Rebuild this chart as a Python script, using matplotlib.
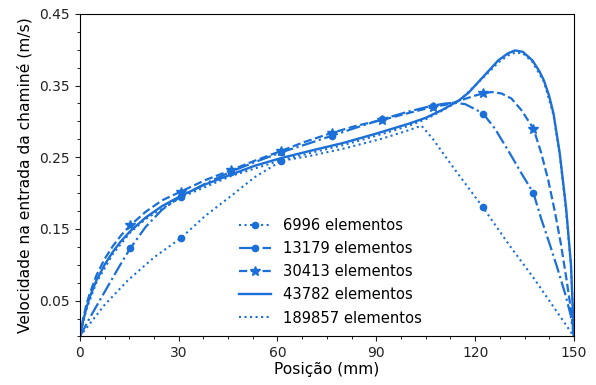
import numpy as np
import matplotlib
matplotlib.use("Agg")
import matplotlib.pyplot as plt
from matplotlib.ticker import MultipleLocator

# ---------------- data ----------------
labels = ["6996 elementos", "13179 elementos", "30413 elementos",
          "43782 elementos", "189857 elementos"]

x_6996 = [0, 7.3, 14.5, 22.7, 30.6, 38, 45.9, 53, 61.2, 70, 80, 91.8, 100, 103.7,
          107.1, 113, 122.4, 130.6, 137.7, 150]
y_6996 = [0, 0.043, 0.078, 0.111, 0.137, 0.168, 0.196, 0.222, 0.245, 0.252, 0.262,
          0.276, 0.288, 0.294, 0.276, 0.238, 0.180, 0.126, 0.082, 0]
mk_6996 = [30.6, 61.2, 122.4]

x_13179 = [0, 3, 6, 9.5, 12, 15.3, 20, 25, 30.6, 38, 45.9, 53, 61.2, 70, 76.5, 85,
           91.8, 100, 107.1, 111, 114, 117, 120, 122.4, 126, 130.6, 134, 137.7,
           140, 142.7, 145, 147.3, 149, 150]
y_13179 = [0, 0.026, 0.050, 0.078, 0.098, 0.123, 0.153, 0.177, 0.195, 0.213, 0.230,
           0.243, 0.257, 0.270, 0.280, 0.293, 0.303, 0.314, 0.322, 0.325, 0.326,
           0.324, 0.317, 0.311, 0.290, 0.255, 0.228, 0.200, 0.165, 0.128, 0.095,
           0.060, 0.030, 0]
mk_13179 = [15.3, 30.6, 45.9, 61.2, 76.5, 91.8, 107.1, 122.4, 137.7]

x_30413 = [0, 1, 2, 3, 5, 7.5, 10, 12.5, 15.3, 20, 25, 30.6, 38, 45.9, 53, 61.2, 68,
           76.5, 84, 91.8, 100, 107.1, 112, 116, 120, 122.4, 125, 128, 131, 134,
           137.7, 140, 142.2, 144.3, 146, 147.8, 149, 150]
y_30413 = [0, 0.025, 0.045, 0.060, 0.085, 0.108, 0.126, 0.141, 0.155, 0.174, 0.190,
           0.202, 0.218, 0.232, 0.245, 0.259, 0.271, 0.284, 0.294, 0.302, 0.312,
           0.320, 0.324, 0.330, 0.336, 0.339, 0.341, 0.339, 0.332, 0.316, 0.290,
           0.257, 0.218, 0.172, 0.130, 0.078, 0.040, 0]
mk_30413 = [15.3, 30.6, 45.9, 61.2, 76.5, 91.8, 107.1, 122.4, 137.7]

x_43782 = [0, 1, 2, 3, 5, 7.5, 10, 12.5, 15.3, 20, 25, 30.6, 38, 46, 53, 61.2, 70,
           80, 90, 100, 105, 110, 115, 118, 121, 124, 127, 130, 132.1, 134.5,
           137.4, 139.5, 140.9, 142.5, 143.8, 145.7, 147.6, 149.1, 150]
y_43782 = [0, 0.022, 0.040, 0.055, 0.078, 0.100, 0.118, 0.133, 0.147, 0.166, 0.182,
           0.196, 0.212, 0.226, 0.238, 0.249, 0.259, 0.270, 0.283, 0.297, 0.305,
           0.316, 0.329, 0.340, 0.355, 0.370, 0.385, 0.395, 0.399, 0.397, 0.385,
           0.370, 0.357, 0.335, 0.311, 0.255, 0.180, 0.100, 0]

x_189857 = [0, 2, 5, 10, 15.3, 20, 30.6, 46, 61.2, 70, 80, 90, 100, 105, 110, 115,
            120, 124, 127, 130, 132.1, 134.5, 137.4, 140.9, 143.8, 145.7, 147.6,
            149.1, 150]
y_189857 = [0, 0.038, 0.075, 0.115, 0.145, 0.164, 0.194, 0.224, 0.246, 0.256, 0.267,
            0.280, 0.294, 0.303, 0.315, 0.328, 0.350, 0.368, 0.382, 0.392, 0.396,
            0.395, 0.383, 0.355, 0.309, 0.253, 0.176, 0.098, 0]

x_ticks = [0, 30, 60, 90, 120, 150]
y_ticks = [0.05, 0.15, 0.25, 0.35, 0.45]

# ---------------- plot ----------------
color = "#1a6fd8"
fig = plt.figure(figsize=(5.96, 3.85), dpi=100)
ax = fig.add_axes([0.134, 0.126, 0.829, 0.838])

series = [
    (x_6996, y_6996, mk_6996, dict(linestyle=":", marker="o", ms=4.5, lw=1.5)),
    (x_13179, y_13179, mk_13179, dict(linestyle="-.", marker="o", ms=4.5, lw=1.6)),
    (x_30413, y_30413, mk_30413, dict(linestyle="--", marker="*", ms=7.5, lw=1.6)),
    (x_43782, y_43782, None, dict(linestyle="-", marker=None, lw=1.7)),
    (x_189857, y_189857, None, dict(linestyle=":", marker=None, lw=1.5)),
]

for (xs, ys, mks, st), lab in zip(series, labels):
    if mks is None:
        ax.plot(xs, ys, color=color, linestyle=st["linestyle"], lw=st["lw"], label=lab)
    else:
        xx = np.array(xs, dtype=float)
        yy = np.array(ys, dtype=float)
        mkx = np.array(mks, dtype=float)
        mky = np.interp(mkx, xx, yy)
        allx = np.concatenate([xx, mkx])
        ally = np.concatenate([yy, mky])
        order = np.argsort(allx, kind="stable")
        allx, ally = allx[order], ally[order]
        idx = [int(np.where(np.isclose(allx, m))[0][0]) for m in mkx]
        ax.plot(allx, ally, color=color, linestyle=st["linestyle"], lw=st["lw"],
                marker=st["marker"], ms=st["ms"], markevery=idx, label=lab)

ax.set_xlim(0, 150)
ax.set_ylim(0, 0.45)
ax.set_xticks(x_ticks)
ax.set_yticks(y_ticks)
ax.xaxis.set_minor_locator(MultipleLocator(7.5))
ax.yaxis.set_minor_locator(MultipleLocator(0.025))
ax.tick_params(axis="both", labelsize=10, colors="#222222")
ax.set_xlabel("Posição (mm)", fontsize=11.2, labelpad=1)
ax.set_ylabel("Velocidade na entrada da chaminé (m/s)", fontsize=11.2, labelpad=5)

ax.legend(loc="upper left", bbox_to_anchor=(0.31, 0.385), frameon=False,
          fontsize=10.6, handlelength=2.2, labelspacing=0.55, borderaxespad=0)

fig.savefig("out.png", dpi=100)
